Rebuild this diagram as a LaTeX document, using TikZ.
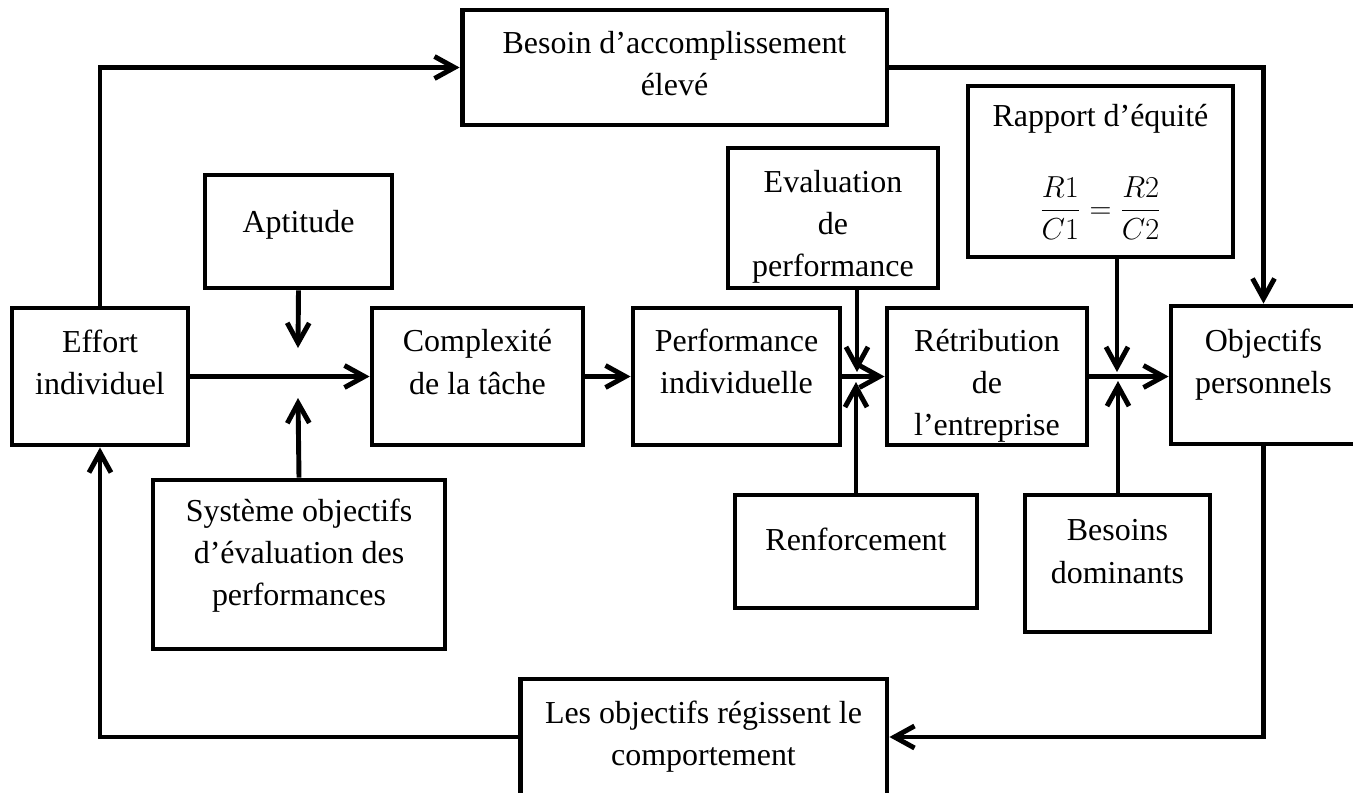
\documentclass[tikz,border=0pt]{standalone}
\usepackage{fontspec}
\setmainfont{Liberation Serif}
\usetikzlibrary{arrows.meta}

% width, height, lift of the text, text
\newcommand{\boxlabel}[4]{\parbox[c][#2][c]{#1}{\centering #4\par\vspace{#3}}}

\tikzstyle{box} = [draw=black, line width=2.8pt, rectangle, inner sep=0pt,
  font=\fontsize{18.2}{24}\selectfont]
\tikzstyle{link} = [draw=black, line width=2.8pt,
  -{Straight Barb[length=4mm, width=4.4mm]}]

\begin{document}
\begin{tikzpicture}[x=0.02cm, y=-0.02cm]
        \useasboundingbox (0,0) rectangle (1353,792);
        \clip (0,0) rectangle (1353,792);

        \node [box] (besoin)       at ( 674.5,  67.5) {\boxlabel{8.5cm}{2.3cm}{0.16cm}{Besoin d’accomplissement\\élevé}};
        \node [box] (aptitude)     at ( 298.5, 231.5) {\boxlabel{3.74cm}{2.26cm}{0.28cm}{Aptitude}};
        \node [box] (evaluation)   at ( 833,   218)   {\boxlabel{4.2cm}{2.8cm}{-0.36cm}{Evaluation\\de\\performance}};
        \node [box] (rapport)      at (1100.5, 171.5) {\boxlabel{5.3cm}{3.42cm}{0cm}{Rapport d’équité\\[24pt] $\displaystyle\frac{R1}{C1}=\frac{R2}{C2}$}};
        \node [box] (effort)       at ( 100,   376.5) {\boxlabel{3.52cm}{2.74cm}{0.58cm}{Effort\\individuel}};
        \node [box] (complexite)   at ( 477.5, 376.5) {\boxlabel{4.22cm}{2.74cm}{0.58cm}{Complexité\\de la tâche}};
        \node [box] (performance)  at ( 736.5, 376.5) {\boxlabel{4.14cm}{2.74cm}{0.6cm}{Performance\\individuelle}};
        \node [box] (retribution)  at ( 987,   376.5) {\boxlabel{4.0cm}{2.74cm}{-0.36cm}{Rétribution\\de\\l’entreprise}};
        \node [box] (objectifs)    at (1263.5, 375)   {\boxlabel{3.7cm}{2.76cm}{0.4cm}{Objectifs\\personnels}};
        \node [box] (systeme)      at ( 299,   564.5) {\boxlabel{5.84cm}{3.38cm}{0.36cm}{Système objectifs\\d’évaluation des\\performances}};
        \node [box] (renforcement) at ( 856,   551.5) {\boxlabel{4.84cm}{2.26cm}{0.48cm}{Renforcement}};
        \node [box] (besoins)      at (1117.5, 563.5) {\boxlabel{3.7cm}{2.74cm}{0.48cm}{Besoins\\dominants}};
        \node [box] (regissent)    at ( 703.5, 737)   {\boxlabel{7.34cm}{2.32cm}{0cm}{Les objectifs régissent le\\comportement}};

        % free ends of the arrows that meet the main line
        \coordinate (aptTip)  at ( 298, 348);
        \coordinate (sysTip)  at ( 298, 398);
        \coordinate (evalTip) at ( 857, 372);
        \coordinate (renfTip) at ( 856, 382);
        \coordinate (rapTip)  at (1117, 372);
        \coordinate (besTip)  at (1118, 381);

        \draw[link] (effort.north) |- (besoin.west);
        \draw[link] (besoin.east) -| (objectifs.north);
        \draw[link] (aptitude.south) -- (aptTip);
        \draw[link] (systeme.north) -- (sysTip);
        \draw[link] (effort) -- (complexite);
        \draw[link] (complexite) -- (performance);
        \draw[link] (performance) -- (retribution);
        \draw[link] (retribution.east) -- (retribution.east -| objectifs.west);
        \draw[link] (evaluation.south -| evalTip) -- (evalTip);
        \draw[link] (renforcement.north) -- (renfTip);
        \draw[link] (rapport.south -| rapTip) -- (rapTip);
        \draw[link] (besoins.north -| besTip) -- (besTip);
        \draw[link] (objectifs.south) |- (regissent.east);
        \draw[link] (regissent.west) -| (effort.south);
\end{tikzpicture}
\end{document}
